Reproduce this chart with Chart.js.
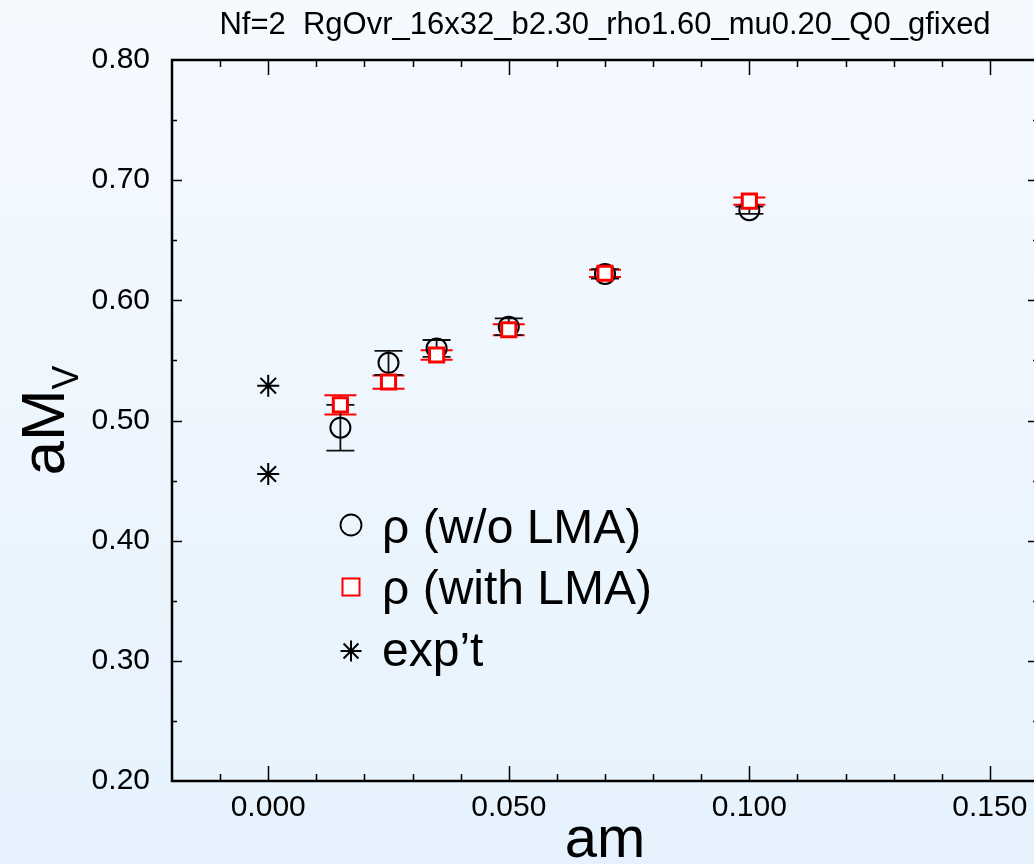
<!DOCTYPE html>
<html>
<head>
<meta charset="utf-8">
<script src="https://cdn.jsdelivr.net/npm/chart.js@4.4.1/dist/chart.umd.min.js"></script>
<style>
    html, body { margin: 0; padding: 0; overflow: hidden; }
    body { width: 1034px; height: 864px; background: linear-gradient(to bottom, #f6faff 0%, #e5f2fd 100%); }
    #wrap { position: absolute; left: 0; top: 0; width: 1045px; height: 864px; }
    canvas { display: block; }
</style>
</head>
<body>
<div id="wrap"><canvas id="massChart" width="1045" height="864" style="width:1045px;height:864px"></canvas></div>
<script>
var FONT = '"Liberation Sans", Arial, Helvetica, sans-serif';

// Titulo e rotulos
var titleText = 'Nf=2  RgOvr_16x32_b2.30_rho1.60_mu0.20_Q0_gfixed';
var xTitle = 'am';
var yTitle = 'aM';
var yTitleSub = 'V';
var seriesLabels = ['\u03c1 (w/o LMA)', '\u03c1 (with LMA)', 'exp\u2019t'];

// Dados
var quarkMass = [0.015, 0.025, 0.035, 0.050, 0.070, 0.100];
var rhoNoLma = [0.494, 0.548, 0.560, 0.578, 0.622, 0.675];
var rhoNoLmaErr = [0.019, 0.010, 0.007, 0.007, 0.004, 0.003];
var rhoLma = [0.513, 0.532, 0.5545, 0.5755, 0.6225, 0.6825];
var rhoLmaErr = [0.008, 0.0055, 0.004, 0.0045, 0.003, 0.003];
var exptMass = [0.000, 0.000];
var exptValues = [0.529, 0.4555];

// Eixos
var xMin = -0.02, xMax = 0.16, xStep = 0.01;
var yMin = 0.20, yMax = 0.80, yStep = 0.05;

function toPoints(xs, ys) {
    var pts = [];
    for (var i = 0; i < xs.length; i++) {
        pts.push({ x: xs[i], y: ys[i] });
    }
    return pts;
}

// Barras de erro
var errorBarsPlugin = {
    id: 'errorBars',
    beforeDatasetsDraw: function(chart) {
        var ctx = chart.ctx;
        var xs = chart.scales.x, ys = chart.scales.y;
        chart.data.datasets.forEach(function(ds) {
            if (!ds.errors) return;
            ctx.save();
            ctx.strokeStyle = ds.errorColor;
            ctx.lineWidth = ds.errorWidth;
            for (var i = 0; i < ds.data.length; i++) {
                var px = xs.getPixelForValue(ds.data[i].x);
                var top = ys.getPixelForValue(ds.data[i].y + ds.errors[i]);
                var bot = ys.getPixelForValue(ds.data[i].y - ds.errors[i]);
                var cap = ds.capHalf;
                ctx.beginPath();
                ctx.moveTo(px, top); ctx.lineTo(px, bot);
                ctx.moveTo(px - cap, top); ctx.lineTo(px + cap, top);
                ctx.moveTo(px - cap, bot); ctx.lineTo(px + cap, bot);
                ctx.stroke();
            }
            ctx.restore();
        });
    }
};

// Moldura com ticks para dentro nos quatro lados
var framePlugin = {
    id: 'frame',
    afterDraw: function(chart) {
        var ctx = chart.ctx;
        var a = chart.chartArea;
        var xs = chart.scales.x, ys = chart.scales.y;
        ctx.save();
        ctx.strokeStyle = '#000';
        ctx.lineWidth = 1.5;
        ctx.beginPath();
        xs.ticks.forEach(function(t) {
            if (t.value <= xMin + 1e-9 || t.value >= xMax - 1e-9) return;
            var px = Math.round(xs.getPixelForValue(t.value)) + 0.5;
            var major = Math.round(t.value * 1000) % 50 === 0;
            var len = major ? 15 : 7;
            ctx.moveTo(px, a.bottom); ctx.lineTo(px, a.bottom - len);
            ctx.moveTo(px, a.top); ctx.lineTo(px, a.top + len);
        });
        ys.ticks.forEach(function(t) {
            if (t.value <= yMin + 1e-9 || t.value >= yMax - 1e-9) return;
            var py = Math.round(ys.getPixelForValue(t.value)) + 0.5;
            var major = Math.round(t.value * 100) % 10 === 0;
            var len = major ? 10 : 5;
            ctx.moveTo(a.left, py); ctx.lineTo(a.left + len, py);
            ctx.moveTo(a.right, py); ctx.lineTo(a.right - len, py);
        });
        ctx.stroke();
        ctx.lineWidth = 2.5;
        ctx.strokeRect(a.left, a.top, a.right - a.left, a.bottom - a.top);
        ctx.restore();
    }
};

// Titulos, rotulos dos eixos e legenda
var textPlugin = {
    id: 'texts',
    afterDraw: function(chart) {
        var ctx = chart.ctx;
        var a = chart.chartArea;
        var cx = (a.left + a.right) / 2;
        ctx.save();
        ctx.fillStyle = '#000';
        ctx.textBaseline = 'alphabetic';

        ctx.font = '31px ' + FONT;
        ctx.textAlign = 'center';
        ctx.fillText(titleText, cx, 34);

        ctx.font = '58px ' + FONT;
        ctx.fillText(xTitle, cx, 857);

        // eixo y rotacionado com subscrito
        var cy = (a.top + a.bottom) / 2;
        ctx.translate(64, cy);
        ctx.rotate(-Math.PI / 2);
        ctx.font = '62px ' + FONT;
        var w1 = ctx.measureText(yTitle).width;
        ctx.font = '36px ' + FONT;
        var w2 = ctx.measureText(yTitleSub).width;
        var start = -(w1 + w2) / 2;
        ctx.textAlign = 'left';
        ctx.font = '62px ' + FONT;
        ctx.fillText(yTitle, start, 0);
        ctx.font = '36px ' + FONT;
        ctx.fillText(yTitleSub, start + w1, 14);
        ctx.restore();

        // legenda
        var symX = 351, textX = 382;
        var symY = [525, 587, 651];
        var baseY = [543, 604, 666];
        ctx.save();
        ctx.font = '48px ' + FONT;
        ctx.textAlign = 'left';
        ctx.textBaseline = 'alphabetic';
        ctx.fillStyle = '#000';
        for (var i = 0; i < seriesLabels.length; i++) {
            ctx.fillText(seriesLabels[i], textX, baseY[i]);
        }
        ctx.lineWidth = 1.8;
        ctx.strokeStyle = '#000';
        ctx.beginPath();
        ctx.arc(symX, symY[0], 10.5, 0, Math.PI * 2);
        ctx.stroke();
        ctx.fillStyle = '#fff';
        ctx.strokeStyle = '#ff0000';
        ctx.lineWidth = 2;
        ctx.fillRect(symX - 8.5, symY[1] - 8.5, 17, 17);
        ctx.strokeRect(symX - 8.5, symY[1] - 8.5, 17, 17);
        ctx.strokeStyle = '#000';
        ctx.lineWidth = 2;
        ctx.beginPath();
        for (var k = 0; k < 4; k++) {
            var ang = k * Math.PI / 4;
            var dx = Math.sin(ang) * 10.5, dy = Math.cos(ang) * 10.5;
            ctx.moveTo(symX - dx, symY[2] - dy);
            ctx.lineTo(symX + dx, symY[2] + dy);
        }
        ctx.stroke();
        ctx.restore();
    }
};

var ctxMass = document.getElementById('massChart');
var massChart = new Chart(ctxMass, {
    type: 'scatter',
    data: {
        datasets: [{
            label: seriesLabels[1],
            data: toPoints(quarkMass, rhoLma),
            errors: rhoLmaErr,
            errorColor: '#ff0000',
            errorWidth: 2,
            capHalf: 16,
            pointStyle: 'rect',
            pointRadius: 10,
            borderColor: '#ff0000',
            backgroundColor: '#ffffff',
            borderWidth: 3,
            order: 0
        }, {
            label: seriesLabels[0],
            data: toPoints(quarkMass, rhoNoLma),
            errors: rhoNoLmaErr,
            errorColor: '#111111',
            errorWidth: 1.8,
            capHalf: 14,
            pointStyle: 'circle',
            pointRadius: 10,
            borderColor: '#000000',
            backgroundColor: 'rgba(0,0,0,0)',
            borderWidth: 2,
            order: 1
        }, {
            label: seriesLabels[2],
            data: toPoints(exptMass, exptValues),
            pointStyle: 'star',
            pointRadius: 11,
            borderColor: '#000000',
            backgroundColor: '#000000',
            borderWidth: 2,
            order: 2
        }]
    },
    options: {
        responsive: false,
        animation: false,
        events: [],
        layout: { autoPadding: false, padding: { top: 60, right: 7, left: 0, bottom: 0 } },
        plugins: {
            legend: { display: false },
            tooltip: { enabled: false },
            title: { display: false }
        },
        scales: {
            x: {
                type: 'linear',
                min: xMin,
                max: xMax,
                grid: { display: false, drawTicks: false },
                border: { display: false },
                ticks: {
                    stepSize: xStep,
                    autoSkip: false,
                    maxRotation: 0,
                    padding: 9,
                    color: '#000',
                    font: { size: 30, family: FONT },
                    callback: function(value) {
                        if (Math.round(value * 1000) % 50 !== 0) return '';
                        return value.toFixed(3);
                    }
                },
                afterFit: function(scale) {
                    scale.height = 83;
                    scale.paddingLeft = 0;
                    scale.paddingRight = 0;
                }
            },
            y: {
                type: 'linear',
                min: yMin,
                max: yMax,
                grid: { display: false, drawTicks: false },
                border: { display: false },
                ticks: {
                    stepSize: yStep,
                    autoSkip: false,
                    padding: 22,
                    color: '#000',
                    font: { size: 30, family: FONT },
                    callback: function(value) {
                        if (Math.round(value * 100) % 10 !== 0) return '';
                        return value.toFixed(2);
                    }
                },
                afterFit: function(scale) { scale.width = 172; }
            }
        }
    },
    plugins: [errorBarsPlugin, framePlugin, textPlugin]
});
</script>
</body>
</html>
